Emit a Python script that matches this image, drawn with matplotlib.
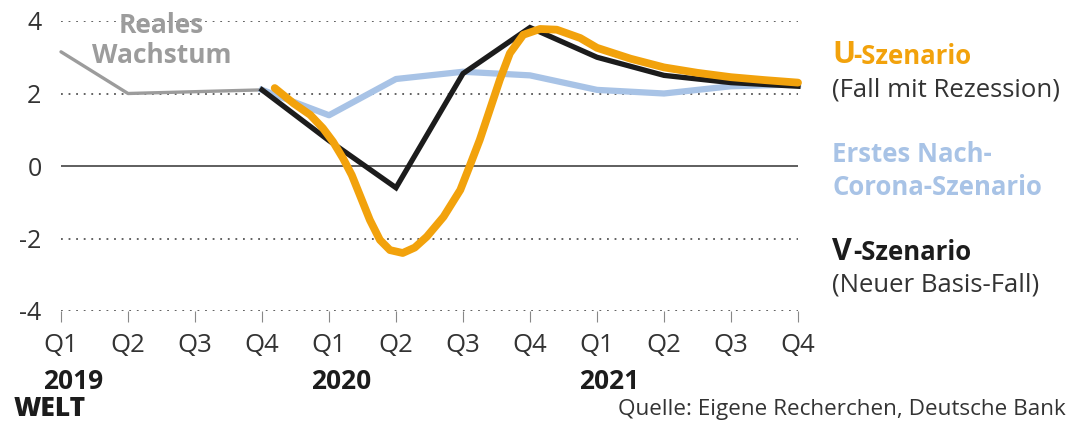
import matplotlib
matplotlib.use("Agg")
import matplotlib.pyplot as plt

plt.rcParams["font.family"] = ["Open Sans", "DejaVu Sans"]

quarters = ["Q1", "Q2", "Q3", "Q4"] * 3
years = ["2019", "2020", "2021"]

# x positions in quarters (0 = Q1 2019)
real_x = [0, 1, 2, 3]
real_y = [3.15, 2.0, 2.05, 2.1]

first_x = [3, 4, 5, 6, 7, 8, 9, 10, 11]
first_y = [2.1, 1.4, 2.4, 2.6, 2.5, 2.1, 2.0, 2.2, 2.25]

v_x = [3, 4, 5, 6, 7, 8, 9, 10, 11]
v_y = [2.1, 0.7, -0.6, 2.55, 3.82, 3.0, 2.5, 2.3, 2.2]

u_x = [3.19, 3.47, 3.72, 3.91, 4.06, 4.21, 4.34, 4.46, 4.61, 4.76, 4.91, 5.1,
       5.28, 5.46, 5.71, 5.96, 6.1, 6.25, 6.4, 6.55, 6.7, 6.9, 7.15, 7.4,
       7.75, 8.0, 8.5, 9.0, 9.5, 10.0, 10.5, 11.0]
u_y = [2.15, 1.73, 1.41, 1.04, 0.67, 0.21, -0.25, -0.8, -1.49, -2.04, -2.32, -2.4,
       -2.25, -1.95, -1.4, -0.66, 0.0, 0.72, 1.55, 2.38, 3.11, 3.62, 3.78, 3.76,
       3.53, 3.26, 2.96, 2.72, 2.57, 2.45, 2.37, 2.3]

grid_vals = [4, 2, -2, -4]

orange = "#F2A20C"
blue = "#A8C3E6"
black = "#1c1c1c"
gray = "#9c9c9c"
text_gray = "#333333"

fig = plt.figure(figsize=(10.76, 4.22), dpi=100)
ax = fig.add_axes([61 / 1076, 1 - 311 / 422, 737 / 1076, 290 / 422])
ax.set_xlim(0, 11)
ax.set_ylim(-4, 4)
for s in ax.spines.values():
    s.set_visible(False)

for g in grid_vals:
    ax.axhline(g, color="#555555", lw=1.3, ls=(0, (1, 3.2)), zorder=1)
ax.axhline(0, color="#333333", lw=1.1, zorder=1)

ax.plot(real_x, real_y, color=gray, lw=2.4, solid_capstyle="round", zorder=2, clip_on=False)
ax.plot(first_x, first_y, color=blue, lw=4.5, solid_joinstyle="round", zorder=3, clip_on=False)
ax.plot(v_x, v_y, color=black, lw=3.8, solid_joinstyle="miter", zorder=4, clip_on=False)
ax.plot(u_x, u_y, color=orange, lw=5.6, solid_joinstyle="round", solid_capstyle="round",
        zorder=5, clip_on=False)

ax.set_yticks([4, 2, 0, -2, -4])
ax.set_yticklabels(["4", "2", "0", "-2", "-4"])
ax.tick_params(axis="y", length=0, pad=14, labelsize=18, labelcolor=text_gray)
ax.set_xticks(range(12))
ax.set_xticklabels(quarters)
ax.tick_params(axis="x", length=8, width=0.8, color="#888888", pad=8,
               labelsize=18.5, labelcolor=text_gray)

for i, yr in enumerate(years):
    ax.annotate(yr, xy=(i * 4, 0), xycoords=("data", "axes fraction"),
                xytext=(-13, -51), textcoords="offset points",
                ha="left", va="center", fontsize=19, fontweight="bold", color=black)

ax.text(1.5, 3.47, "Reales\nWachstum", ha="center", va="center", fontsize=19,
        fontweight="bold", color=gray, linespacing=1.15, zorder=6)

fx = 832 / 1076
fig.text(fx, 1 - 55 / 422, "U", fontsize=22, fontweight="bold", color=orange, va="center")
fig.text(fx + 0.0195, 1 - 56 / 422, "-Szenario", fontsize=18.5, fontweight="bold",
         color=orange, va="center")
fig.text(fx, 1 - 90 / 422, "(Fall mit Rezession)", fontsize=18.5,
         color=text_gray, va="center")
fig.text(fx, 1 - 155 / 422, "Erstes Nach-", fontsize=18.5, fontweight="bold",
         color=blue, va="center")
fig.text(fx, 1 - 187 / 422, "Corona-Szenario", fontsize=18.5, fontweight="bold",
         color=blue, va="center")
fig.text(fx, 1 - 252 / 422, "V", fontsize=22, fontweight="bold", color=black, va="center")
fig.text(fx + 0.0195, 1 - 253 / 422, "-Szenario", fontsize=18.5, fontweight="bold",
         color=black, va="center")
fig.text(fx, 1 - 285 / 422, "(Neuer Basis-Fall)", fontsize=18.5,
         color=text_gray, va="center")

fig.text(14 / 1076, 1 - 409 / 422, "WELT", fontsize=19, fontweight="heavy",
         color=black, va="center")
fig.text(1066 / 1076, 1 - 409 / 422, "Quelle: Eigene Recherchen, Deutsche Bank",
         fontsize=16.2, color=text_gray, va="center", ha="right")

fig.savefig("out.png", dpi=100)
